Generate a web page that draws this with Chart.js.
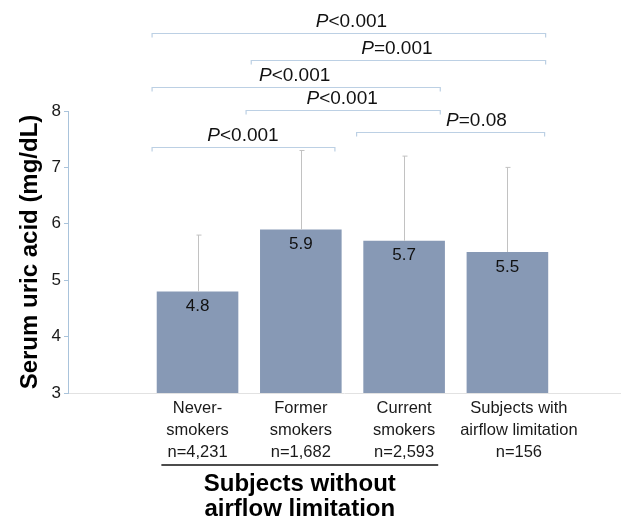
<!DOCTYPE html>
<html>
<head>
<meta charset="utf-8">
<script src="https://cdn.jsdelivr.net/npm/chart.js@4"></script>
<style>
  html, body { margin: 0; padding: 0; background: #fff; }
  #wrap { width: 634px; height: 520px; }
</style>
</head>
<body>
<div id="wrap"><canvas id="uricChart"></canvas></div>
<script>
const categories = [
    ['Never-', 'smokers', 'n=4,231'],
    ['Former', 'smokers', 'n=1,682'],
    ['Current', 'smokers', 'n=2,593'],
    ['     Subjects with', '     airflow limitation', '     n=156']
];
const means = [4.8, 5.9, 5.7, 5.5];
const upperSD = [5.8, 7.3, 7.2, 7.0];
const yTicks = [3, 4, 5, 6, 7, 8];

// significance brackets: from/to in category units, level in mg/dL units
const bracketFrom = [-0.44, 0.52, -0.44, 0.47, 1.54, -0.44];
const bracketTo = [3.37, 3.37, 2.35, 2.35, 3.36, 1.33];
const bracketLevel = [9.38, 8.9, 8.42, 8.02, 7.63, 7.37];
const bracketLabelX = [1.49, 1.93, 0.94, 1.4, 2.7, 0.44];
const bracketOp = ['<', '=', '<', '<', '=', '<'];
const bracketP = ['0.001', '0.001', '0.001', '0.001', '0.08', '0.001'];

const groupTitle = ['Subjects without', 'airflow limitation'];
const groupFrom = -0.35, groupTo = 2.33;

const font = 'Liberation Sans, Arial, sans-serif';

const extras = {
    id: 'extras',
    afterDatasetsDraw(chart) {
        const c = chart.ctx;
        const x = chart.scales.x, y = chart.scales.y;
        const bottom = chart.chartArea.bottom;
        c.save();

        // error bars
        c.strokeStyle = '#c2c2c2';
        c.lineWidth = 1;
        means.forEach((m, i) => {
            const px = Math.round(x.getPixelForValue(i)) + 0.5;
            const y0 = y.getPixelForValue(m);
            const y1 = y.getPixelForValue(upperSD[i]);
            c.beginPath();
            c.moveTo(px, y0);
            c.lineTo(px, y1);
            c.moveTo(px - 2, y1);
            c.lineTo(px + 3, y1);
            c.stroke();
        });

        // value labels
        c.fillStyle = '#111';
        c.font = '17px ' + font;
        c.textAlign = 'center';
        c.textBaseline = 'middle';
        means.forEach((m, i) => {
            c.fillText(m.toFixed(1), x.getPixelForValue(i), y.getPixelForValue(m) + 15);
        });

        // brackets
        c.strokeStyle = '#bcd0e4';
        c.lineWidth = 1.2;
        bracketLevel.forEach((lv, i) => {
            const x0 = x.getPixelForValue(bracketFrom[i]);
            const x1 = x.getPixelForValue(bracketTo[i]);
            const py = Math.round(y.getPixelForValue(lv)) + 0.5;
            c.beginPath();
            c.moveTo(x0, py + 4);
            c.lineTo(x0, py);
            c.lineTo(x1, py);
            c.lineTo(x1, py + 4);
            c.stroke();

            const lx = x.getPixelForValue(bracketLabelX[i]);
            const ly = py - 7;
            const partP = 'P';
            const rest = bracketOp[i] + bracketP[i];
            c.font = 'italic 19px ' + font;
            const wP = c.measureText(partP).width;
            c.font = '19px ' + font;
            const wR = c.measureText(rest).width;
            const start = lx - (wP + wR) / 2;
            c.fillStyle = '#111';
            c.textAlign = 'left';
            c.textBaseline = 'alphabetic';
            c.font = 'italic 19px ' + font;
            c.fillText(partP, start, ly);
            c.font = '19px ' + font;
            c.fillText(rest, start + wP, ly);
        });

        // group underline and title
        const gx0 = x.getPixelForValue(groupFrom);
        const gx1 = x.getPixelForValue(groupTo);
        c.strokeStyle = '#111';
        c.lineWidth = 1.5;
        c.beginPath();
        c.moveTo(gx0, bottom + 72);
        c.lineTo(gx1, bottom + 72);
        c.stroke();
        c.fillStyle = '#000';
        c.font = 'bold 24px ' + font;
        c.textAlign = 'center';
        c.textBaseline = 'alphabetic';
        groupTitle.forEach((t, k) => {
            c.fillText(t, (gx0 + gx1) / 2, bottom + 98 + k * 25);
        });
        c.restore();
    }
};

const ctx = document.getElementById('uricChart').getContext('2d');
const uricChart = new Chart(ctx, {
    type: 'bar',
    data: {
        datasets: [{
            data: means.map((v, i) => ({ x: i, y: v })),
            backgroundColor: '#8799b5',
            barPercentage: 0.79,
            categoryPercentage: 1
        }]
    },
    options: {
        responsive: true,
        maintainAspectRatio: false,
        animation: false,
        layout: { padding: { top: 111, right: 14, left: 0, bottom: 0 } },
        plugins: { legend: { display: false }, tooltip: { enabled: false } },
        scales: {
            x: {
                type: 'linear',
                offset: false,
                min: -1.254,
                max: 4.09,
                afterBuildTicks: (s) => { s.ticks = categories.map((c, i) => ({ value: i })); },
                afterFit: (s) => { s.height = 127; },
                grid: { display: false, offset: false },
                border: { color: '#e2e2e2', width: 1 },
                ticks: {
                    autoSkip: false,
                    maxRotation: 0,
                    padding: -3,
                    color: '#1a1a1a',
                    font: { family: font, size: 16.5, lineHeight: 1.32 },
                    callback: (v) => categories[v]
                }
            },
            y: {
                min: 3,
                max: 8,
                afterBuildTicks: (s) => { s.ticks = yTicks.map(v => ({ value: v })); },
                afterFit: (s) => { s.width = 68; },
                grid: { drawOnChartArea: false, drawTicks: true, tickLength: 4, color: '#a9c3db' },
                border: { color: '#a9c3db', width: 1 },
                ticks: {
                    padding: 3,
                    color: '#1a1a1a',
                    font: { family: font, size: 17 }
                },
                title: {
                    display: true,
                    text: 'Serum uric acid (mg/dL)',
                    color: '#000',
                    font: { family: font, size: 24, weight: 'bold' },
                    padding: { top: 16, bottom: 0 }
                }
            }
        }
    },
    plugins: [extras]
});
</script>
</body>
</html>
